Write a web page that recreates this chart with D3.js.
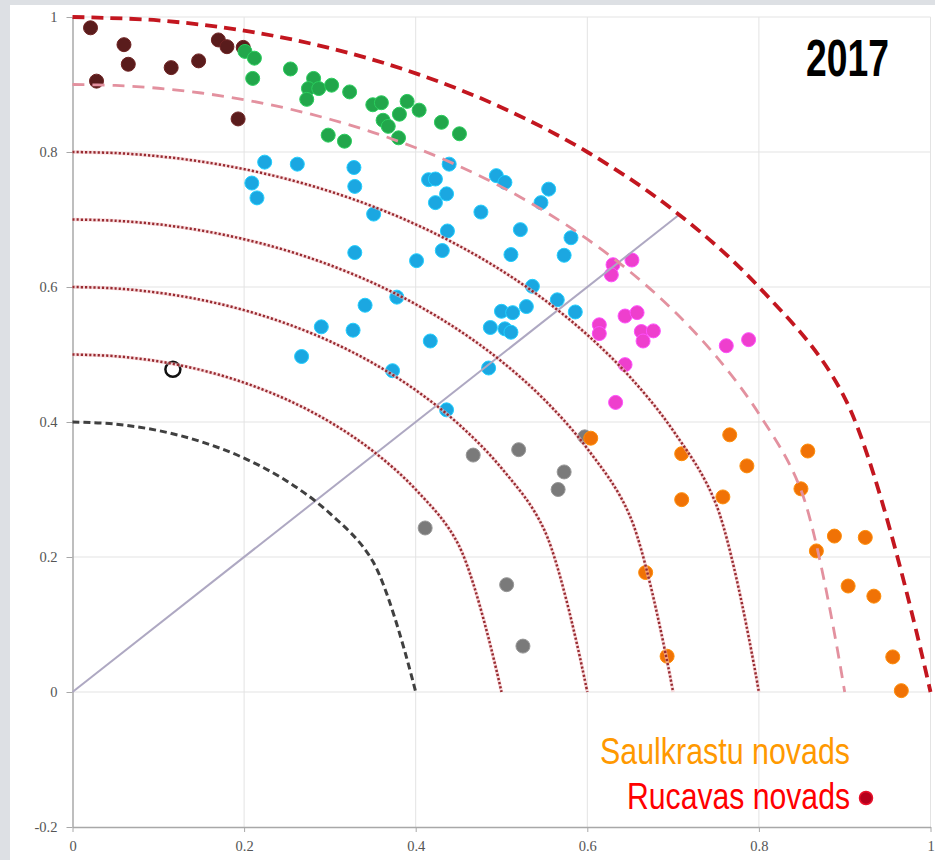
<!DOCTYPE html>
<html>
<head>
<meta charset="utf-8">
<script src="https://cdn.jsdelivr.net/npm/d3@7"></script>
<style>
  body { margin: 0; background: #dde0e4; }
  #area { width: 935px; height: 860px; }
</style>
</head>
<body>
<div id="area"></div>
<script>
// values, one array per colour group
let brownPts = [
  [0.021, 0.984], [0.060, 0.959], [0.065, 0.930], [0.028, 0.905], [0.115, 0.925],
  [0.147, 0.935], [0.170, 0.966], [0.180, 0.956], [0.199, 0.955], [0.193, 0.849]
];

let greenPts = [
  [0.201, 0.949], [0.212, 0.939], [0.210, 0.909], [0.254, 0.923], [0.281, 0.909],
  [0.275, 0.894], [0.287, 0.894], [0.273, 0.878], [0.302, 0.899], [0.323, 0.889],
  [0.350, 0.870], [0.360, 0.873], [0.390, 0.875], [0.404, 0.862], [0.381, 0.856],
  [0.362, 0.847], [0.368, 0.838], [0.380, 0.821], [0.298, 0.825], [0.317, 0.816],
  [0.430, 0.844], [0.451, 0.827]
];

let bluePts = [
  [0.224, 0.785], [0.262, 0.782], [0.209, 0.754], [0.215, 0.732], [0.328, 0.777],
  [0.329, 0.749], [0.351, 0.708], [0.329, 0.651], [0.415, 0.759], [0.423, 0.760],
  [0.439, 0.782], [0.436, 0.738], [0.423, 0.725], [0.476, 0.711], [0.437, 0.683],
  [0.431, 0.654], [0.401, 0.639], [0.494, 0.765], [0.504, 0.755], [0.555, 0.745],
  [0.546, 0.725], [0.522, 0.685], [0.581, 0.673], [0.511, 0.648], [0.573, 0.647],
  [0.536, 0.601], [0.565, 0.581], [0.529, 0.571], [0.500, 0.564], [0.513, 0.562],
  [0.586, 0.563], [0.487, 0.540], [0.504, 0.538], [0.511, 0.533], [0.417, 0.520],
  [0.341, 0.573], [0.378, 0.585], [0.290, 0.541], [0.327, 0.536], [0.267, 0.497],
  [0.373, 0.476], [0.436, 0.418], [0.485, 0.480]
];

let magentaPts = [
  [0.630, 0.633], [0.652, 0.640], [0.628, 0.618], [0.614, 0.544], [0.614, 0.531],
  [0.644, 0.557], [0.658, 0.562], [0.663, 0.534], [0.677, 0.535], [0.665, 0.520],
  [0.644, 0.485], [0.633, 0.429], [0.762, 0.513], [0.788, 0.522]
];

let grayPts = [
  [0.597, 0.378], [0.467, 0.351], [0.520, 0.359], [0.573, 0.326], [0.566, 0.300],
  [0.411, 0.243], [0.506, 0.159], [0.525, 0.068]
];

let orangePts = [
  [0.604, 0.376], [0.710, 0.353], [0.710, 0.285], [0.668, 0.177], [0.693, 0.053],
  [0.766, 0.381], [0.786, 0.335], [0.857, 0.357], [0.849, 0.301], [0.758, 0.289],
  [0.888, 0.231], [0.924, 0.229], [0.867, 0.209], [0.904, 0.157], [0.934, 0.142],
  [0.956, 0.052], [0.966, 0.002]
];

let hollowPts = [[0.117, 0.478]];

// reference arcs: radius and sampling step along x
let arcRadii = [1.0, 0.9, 0.8, 0.7, 0.6, 0.5, 0.4];
let arcSteps = [0.1, 0.05, 0.05, 0.05, 0.05, 0.05, 0.05];
let diagonal = [[0, 0], [0.707, 0.707]];

let xTicks = [0, 0.2, 0.4, 0.6, 0.8, 1];
let yTicks = [-0.2, 0, 0.2, 0.4, 0.6, 0.8, 1];

let legendLabels = ["Saulkrastu novads", "Rucavas novads"];
let yearLabel = "2017";

let margin = {
  top:    17,
  left:   72.5
};

let exteriorWidth  = 935,
    exteriorHeight = 860;

let interiorWidth  = 858,
    interiorHeight = 810;

let root =
  d3.select("#area")
    .append("svg")
      .attr("width", exteriorWidth)
      .attr("height", exteriorHeight);

// grey frame + white panel
root.append("rect")
    .attr("width", exteriorWidth)
    .attr("height", exteriorHeight)
    .attr("fill", "#dde0e4");
root.append("rect")
    .attr("x", 10).attr("y", 5)
    .attr("width", exteriorWidth - 10)
    .attr("height", exteriorHeight - 5)
    .attr("fill", "#fff");

let svg =
  root.append("g")
      .attr("transform", translate(margin.left, margin.top));

let x =
  d3.scaleLinear()
    .domain([0, 1])
    .range([0, interiorWidth]);

let y =
  d3.scaleLinear()
    .domain([-0.2, 1])
    .range([interiorHeight, 0]);

let fmt = function(d) { return String(+d.toFixed(1)); };

// grid
svg.append("g")
  .selectAll("line")
  .data(xTicks.slice(1))
  .join("line")
    .attr("x1", d => x(d)).attr("x2", d => x(d))
    .attr("y1", 0).attr("y2", interiorHeight)
    .attr("stroke", "#e3e3e3");

svg.append("g")
  .selectAll("line")
  .data(yTicks.slice(1))
  .join("line")
    .attr("x1", 0).attr("x2", interiorWidth)
    .attr("y1", d => y(d)).attr("y2", d => y(d))
    .attr("stroke", "#e3e3e3");

// axes
let xAxis = svg.append("g")
    .attr("transform", translate(0, interiorHeight))
    .call(d3.axisBottom(x).tickValues(xTicks).tickFormat(fmt)
            .tickSize(5).tickSizeOuter(0).tickPadding(9));

let yAxis = svg.append("g")
    .call(d3.axisLeft(y).tickValues(yTicks).tickFormat(fmt)
            .tickSize(6).tickSizeOuter(0).tickPadding(9));

[xAxis, yAxis].forEach(function(a) {
  a.select(".domain").attr("stroke", "#a8a8a8").attr("stroke-width", 1.5);
  a.selectAll(".tick line").attr("stroke", "#a8a8a8");
  a.selectAll("text")
    .attr("fill", "#555")
    .style("font-family", "'Liberation Serif', 'DejaVu Serif', serif")
    .style("font-size", "14.5px");
});

// points
let groups = [
  {pts: brownPts,   color: "#5a1c1c"},
  {pts: greenPts,   color: "#22a64b"},
  {pts: bluePts,    color: "#1ba7e1"},
  {pts: magentaPts, color: "#ee3fcd"},
  {pts: grayPts,    color: "#7a7a7a"},
  {pts: orangePts,  color: "#f07206"}
];

groups.forEach(function(g) {
  svg.append("g")
    .selectAll("circle")
    .data(g.pts)
    .join("circle")
      .attr("cx", d => x(d[0]))
      .attr("cy", d => y(d[1]))
      .attr("r", 7)
      .attr("fill", g.color)
      .attr("stroke", d3.color(g.color).brighter(0.6))
      .attr("stroke-width", 1);
});

svg.append("g")
  .selectAll("circle")
  .data(hollowPts)
  .join("circle")
    .attr("cx", d => x(d[0]))
    .attr("cy", d => y(d[1]))
    .attr("r", 7.5)
    .attr("fill", "none")
    .attr("stroke", "#111")
    .attr("stroke-width", 2.5);

// reference curves
let arcLine =
  d3.line()
    .x(d => x(d[0]))
    .y(d => y(d[1]))
    .curve(d3.curveCatmullRom.alpha(0.5));

function arcPoints(r, step) {
  let n = Math.round(r / step);
  return d3.range(n + 1).map(function(i) {
    let px = r * i / n;
    return [px, Math.sqrt(Math.max(0, r * r - px * px))];
  });
}

let arcStyle = {
  "1":   {stroke: "#c3161f", width: 3.8, dash: "12,7"},
  "0.9": {stroke: "#e3919f", width: 2.8, dash: "12,8"},
  "0.8": {stroke: "#982a30", width: 2.5, dash: "2.2,2", halo: true},
  "0.7": {stroke: "#982a30", width: 2.5, dash: "2.2,2", halo: true},
  "0.6": {stroke: "#982a30", width: 2.5, dash: "2.2,2", halo: true},
  "0.5": {stroke: "#982a30", width: 2.5, dash: "2.2,2", halo: true},
  "0.4": {stroke: "#404040", width: 3,   dash: "7,4"}
};

svg.append("path")
    .datum(diagonal)
    .attr("d", d3.line().x(d => x(d[0])).y(d => y(d[1])))
    .attr("fill", "none")
    .attr("stroke", "#aea8c2")
    .attr("stroke-width", 2);

arcRadii.forEach(function(r, i) {
  let s = arcStyle[String(r)];
  let pts = arcPoints(r, arcSteps[i]);
  if (s.halo) {
    svg.append("path")
        .datum(pts)
        .attr("d", arcLine)
        .attr("fill", "none")
        .attr("stroke", "#f4c4c8")
        .attr("stroke-opacity", 0.6)
        .attr("stroke-width", 3.5);
  }
  svg.append("path")
      .datum(pts)
      .attr("d", arcLine)
      .attr("fill", "none")
      .attr("stroke", s.stroke)
      .attr("stroke-width", s.width)
      .attr("stroke-dasharray", s.dash);
});

// year label
root.append("text")
    .attr("x", 889)
    .attr("y", 75.5)
    .attr("text-anchor", "end")
    .attr("textLength", 83)
    .attr("lengthAdjust", "spacingAndGlyphs")
    .style("font-family", "'Liberation Sans', Arial, sans-serif")
    .style("font-weight", "bold")
    .style("font-size", "51px")
    .attr("fill", "#000")
    .text(yearLabel);

// legend
root.append("text")
    .attr("x", 850)
    .attr("y", 764)
    .attr("text-anchor", "end")
    .attr("textLength", 250)
    .attr("lengthAdjust", "spacingAndGlyphs")
    .style("font-family", "'Liberation Sans', Arial, sans-serif")
    .style("font-size", "36px")
    .attr("fill", "#ff9900")
    .text(legendLabels[0]);

root.append("text")
    .attr("x", 850)
    .attr("y", 809)
    .attr("text-anchor", "end")
    .attr("textLength", 223)
    .attr("lengthAdjust", "spacingAndGlyphs")
    .style("font-family", "'Liberation Sans', Arial, sans-serif")
    .style("font-size", "36px")
    .attr("fill", "#ff0000")
    .text(legendLabels[1]);

root.append("circle")
    .attr("cx", 866)
    .attr("cy", 798)
    .attr("r", 6.5)
    .attr("fill", "#b5001c")
    .attr("stroke", "#e8102a")
    .attr("stroke-width", 1.5);


function translate(x, y=0) {
  return "translate({x}, {y})"
          .replace("{x}", x)
          .replace("{y}", y);
}
</script>
</body>
</html>
